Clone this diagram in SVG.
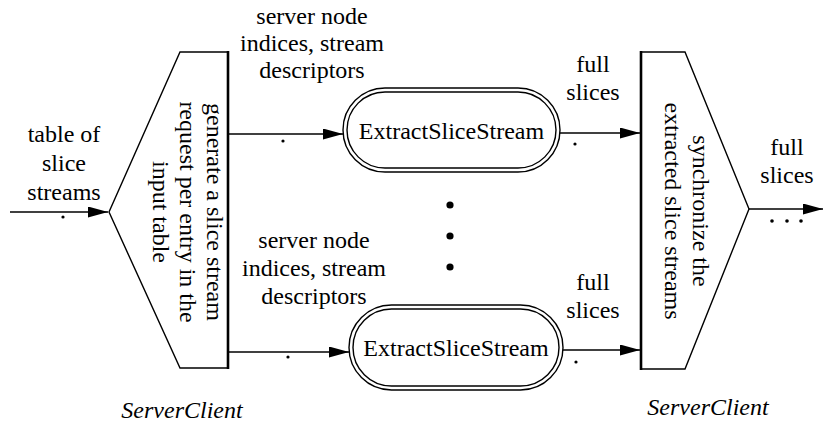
<svg xmlns="http://www.w3.org/2000/svg" width="823" height="425" viewBox="0 0 823 425">
<defs>
<marker id="ah" viewBox="0 0 20 11" refX="20" refY="5.5" markerWidth="20" markerHeight="11" markerUnits="userSpaceOnUse" orient="auto">
<path d="M0,0 L20,5.5 L0,11 Z" fill="#000"/>
</marker>
<style>
text{font-family:"Liberation Serif","Times New Roman",serif;font-size:24px;fill:#000}
.c{text-anchor:middle}
.i{font-style:italic}
.ln{fill:none;stroke:#000;stroke-width:1.4}
.thick{fill:none;stroke:#000;stroke-width:2.6}
.arr{fill:none;stroke:#000;stroke-width:1.4;marker-end:url(#ah)}
.dot{fill:#000}
</style>
</defs>
<rect width="823" height="425" fill="#fff"/>

<g id="connectors">
<line class="arr" x1="10" y1="212" x2="108" y2="212"/>
<line class="arr" x1="228" y1="134" x2="343" y2="134"/>
<line class="arr" x1="228" y1="352" x2="349" y2="352"/>
<line class="arr" x1="560" y1="133" x2="640" y2="133"/>
<line class="arr" x1="563" y1="350" x2="640" y2="350"/>
<line class="arr" x1="749" y1="209" x2="823" y2="209"/>
<circle class="dot" cx="63" cy="217" r="1.6"/>
<circle class="dot" cx="283" cy="141" r="1.6"/>
<circle class="dot" cx="575" cy="144" r="1.6"/>
<circle class="dot" cx="288" cy="357" r="1.6"/>
<circle class="dot" cx="576" cy="362" r="1.6"/>
<circle class="dot" cx="772" cy="221" r="1.8"/>
<circle class="dot" cx="787" cy="221" r="1.8"/>
<circle class="dot" cx="801" cy="221" r="1.8"/>
</g>

<g id="labels">
<text class="c" x="64" y="142">table of</text>
<text class="c" x="64" y="171">slice</text>
<text class="c" x="64" y="200">streams</text>
<text class="c" x="312" y="24">server node</text>
<text class="c" x="312" y="51">indices, stream</text>
<text class="c" x="312" y="78">descriptors</text>
<text class="c" x="314" y="248">server node</text>
<text class="c" x="314" y="276">indices, stream</text>
<text class="c" x="314" y="304">descriptors</text>
<text class="c" x="593" y="72">full</text>
<text class="c" x="593" y="100">slices</text>
<text class="c" x="593" y="290">full</text>
<text class="c" x="593" y="318">slices</text>
<text class="c" x="787" y="155">full</text>
<text class="c" x="787" y="183">slices</text>
<text class="c i" x="182" y="418">ServerClient</text>
<text class="c i" x="708" y="415">ServerClient</text>
</g>

<g id="dots">
<circle class="dot" cx="450" cy="205" r="3.6"/>
<circle class="dot" cx="450" cy="236" r="3.6"/>
<circle class="dot" cx="450" cy="267" r="3.6"/>
</g>

<g id="generator">
<path class="ln" d="M228,52 L180,52 L109,212 L180,368 L228,368"/>
<line class="thick" x1="228" y1="51" x2="228" y2="369"/>
<g transform="translate(207,212) rotate(90)"><text class="c" x="0" y="0">generate a slice stream</text></g>
<g transform="translate(180,212) rotate(90)"><text class="c" x="0" y="0">request per entry in the</text></g>
<g transform="translate(153,212) rotate(90)"><text class="c" x="0" y="0">input table</text></g>
</g>

<g id="extract1">
<rect class="ln" x="343" y="88" width="217" height="84" rx="42"/>
<rect class="ln" x="347" y="92" width="209" height="76" rx="38"/>
<text class="c" x="451.5" y="139">ExtractSliceStream</text>
</g>

<g id="extract2">
<rect class="ln" x="349" y="305" width="214" height="85" rx="42.5"/>
<rect class="ln" x="353" y="309" width="206" height="77" rx="38.5"/>
<text class="c" x="456" y="356">ExtractSliceStream</text>
</g>

<g id="synchronizer">
<path class="ln" d="M641,52 L685,52 L749,209 L685,369 L641,369"/>
<line class="thick" x1="641" y1="51" x2="641" y2="370"/>
<g transform="translate(693,211) rotate(90)"><text class="c" x="0" y="0">synchronize the</text></g>
<g transform="translate(665,211) rotate(90)"><text class="c" x="0" y="0">extracted slice streams</text></g>
</g>
</svg>
